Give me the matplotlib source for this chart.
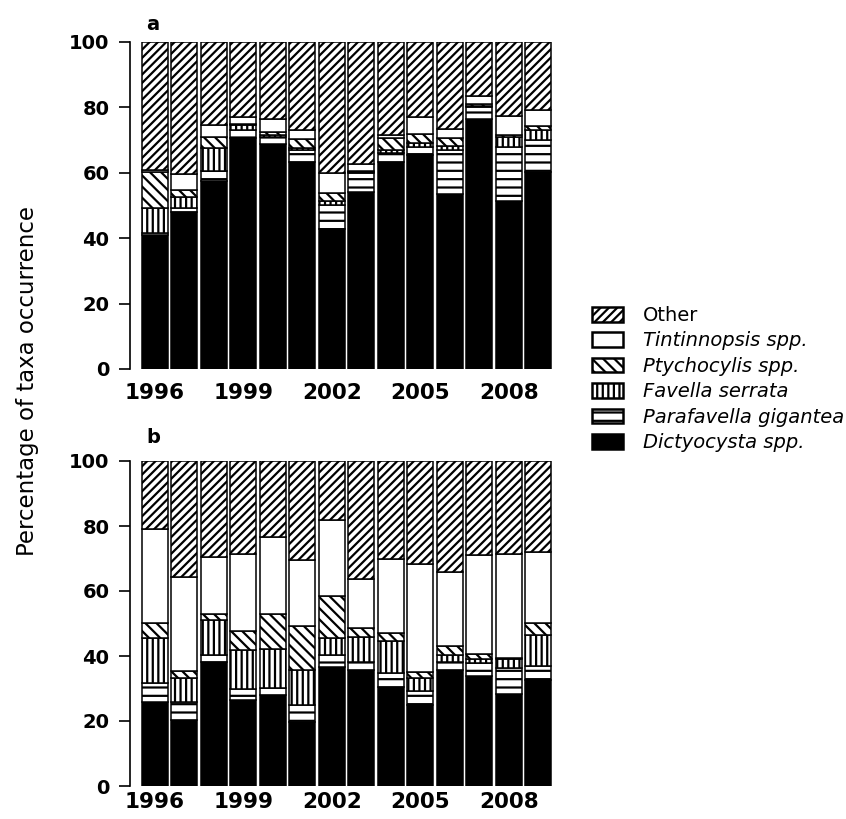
import numpy as np
import matplotlib.pyplot as plt
from matplotlib.patches import Patch

plt.rcParams['font.family'] = ['DejaVu Sans']
plt.rcParams['hatch.linewidth'] = 1.6

years = np.arange(1996, 2010)
year_ticks = [1996, 1999, 2002, 2005, 2008]

# panel a - udzialy procentowe
dict_a = [41.0, 48.0, 57.6, 70.7, 68.9, 63.3, 42.8, 54.0, 63.3, 65.4, 53.5, 76.6, 51.5, 60.2]
para_a = [0.7, 1.2, 2.9, 2.3, 2.1, 3.7, 7.2, 6.0, 2.7, 2.6, 13.5, 3.4, 16.5, 9.8]
fav_a = [7.5, 3.5, 7.0, 1.5, 0.6, 0.6, 1.5, 0.3, 1.0, 1.0, 1.2, 0.5, 3.0, 3.0]
pty_a = [11.0, 2.0, 3.5, 0.5, 1.0, 2.6, 2.3, 0.3, 3.6, 3.0, 2.3, 0.5, 0.5, 1.2]
tint_a = [0.8, 5.0, 3.5, 2.0, 4.0, 3.0, 6.2, 2.0, 1.0, 5.0, 3.0, 2.5, 6.0, 5.0]

# panel b
dict_b = [25.8, 20.2, 38.2, 26.4, 27.9, 19.7, 36.6, 35.8, 30.5, 24.8, 35.8, 34.0, 28.4, 32.5]
para_b = [6.0, 5.6, 2.0, 3.3, 2.3, 5.3, 3.6, 2.5, 4.3, 4.4, 2.4, 3.7, 8.0, 4.5]
fav_b = [13.7, 7.4, 10.8, 12.0, 12.1, 10.8, 5.3, 7.7, 9.7, 4.0, 2.0, 1.3, 2.6, 9.6]
pty_b = [4.7, 2.1, 1.8, 5.9, 10.5, 13.4, 12.9, 2.6, 2.6, 1.8, 2.8, 1.6, 0.5, 3.6]
tint_b = [29.0, 29.0, 17.7, 23.9, 23.8, 20.2, 23.3, 15.2, 22.9, 33.2, 22.8, 30.4, 32.0, 21.8]

names = ['Dictyocysta spp.', 'Parafavella gigantea', 'Favella serrata',
         'Ptychocylis spp.', 'Tintinnopsis spp.', 'Other']
faces = ['black', 'white', 'white', 'white', 'white', 'white']
hatches = [None, '--', '|||', '\\\\\\', None, '////']


def draw(ax, series, xpad):
    series = [np.array(s) for s in series]
    series.append(100 - sum(series))
    bottom = np.zeros(len(years))
    for s, fc, h in zip(series, faces, hatches):
        ax.bar(years, s, bottom=bottom, width=0.88, color=fc, hatch=h,
               edgecolor='black', linewidth=1.1)
        bottom += s
    ax.set_xlim(1995.4, 2009.6)
    ax.set_ylim(0, 100)
    ax.set_yticks([0, 20, 40, 60, 80, 100])
    ax.set_xticks(year_ticks)
    for sp in ['top', 'right', 'bottom']:
        ax.spines[sp].set_visible(False)
    ax.spines['left'].set_position(('outward', 5))
    ax.spines['left'].set_bounds(0, 100)
    ax.spines['left'].set_linewidth(1.2)
    ax.tick_params(axis='y', length=8, width=1.2, labelsize=14, pad=7)
    ax.tick_params(axis='x', length=0, labelsize=15.5, pad=xpad)
    for lab in ax.get_xticklabels() + ax.get_yticklabels():
        lab.set_fontweight('bold')


fig = plt.figure(figsize=(8.46, 8.19), dpi=100)
ax1 = fig.add_axes([0.162, 1 - 369 / 819, 0.495, 327 / 819])
ax2 = fig.add_axes([0.162, 1 - 786 / 819, 0.495, 325 / 819])
draw(ax1, [dict_a, para_a, fav_a, pty_a, tint_a], 10)
draw(ax2, [dict_b, para_b, fav_b, pty_b, tint_b], 4)

fig.text(146 / 846, 1 - 30 / 819, 'a', fontsize=14, fontweight='bold', va='baseline')
fig.text(146 / 846, 1 - 443 / 819, 'b', fontsize=14, fontweight='bold', va='baseline')
fig.text(28 / 846, 1 - 381 / 819, 'Percentage of taxa occurrence', rotation=90,
         fontsize=16.5, ha='center', va='center')

handles = []
for n, fc, h in zip(names, faces, hatches):
    handles.append(Patch(facecolor=fc, edgecolor='black', hatch=h, linewidth=1.8, label=n))
handles = handles[::-1]
leg = fig.legend(handles=handles, loc='upper left', bbox_to_anchor=(592 / 846, 1 - 306 / 819),
                 frameon=False, fontsize=14, handlelength=1.6, handleheight=0.78,
                 labelspacing=0.33, handletextpad=1.0, borderpad=0, borderaxespad=0)
for t in leg.get_texts():
    if t.get_text() != 'Other':
        t.set_fontstyle('italic')

fig.savefig('out.png', dpi=100)
